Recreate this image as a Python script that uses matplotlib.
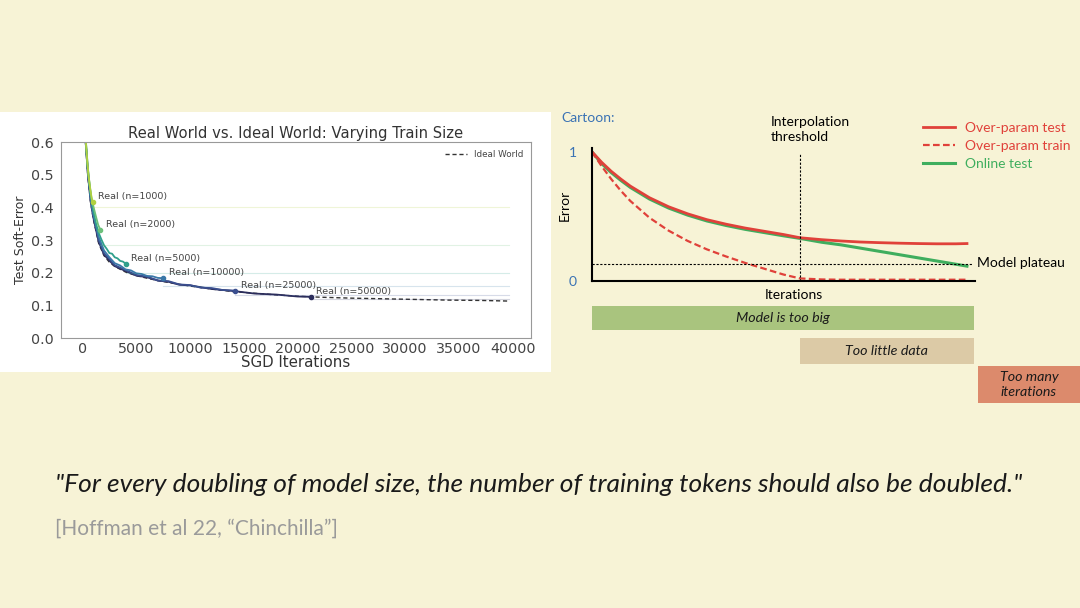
import matplotlib.pyplot as plt
from matplotlib.patches import Rectangle

BG = '#f7f3d6'
RED = '#e0413a'
GREEN = '#3fae5e'
BLUE = '#3a72b4'

# --- left chart: real world vs ideal world ---
ideal_x = [250, 500, 750, 1000, 1500, 2000, 2500, 3000, 4000, 5000, 6000, 7000, 8000,
           10000, 12000, 14000, 16000, 18000, 20000, 22000, 25000, 28000, 31000, 34000, 37000, 39700]
ideal_y = [0.615, 0.495, 0.415, 0.365, 0.29, 0.252, 0.232, 0.219, 0.202, 0.191, 0.183, 0.176, 0.170,
           0.159, 0.150, 0.142, 0.137, 0.132, 0.128, 0.125, 0.122, 0.120, 0.118, 0.116, 0.115, 0.113]

n1000_x = [250, 400, 550, 700, 850, 930]
n1000_y = [0.63, 0.56, 0.50, 0.462, 0.428, 0.416]
n2000_x = [250, 450, 650, 850, 1050, 1250, 1450, 1670]
n2000_y = [0.63, 0.53, 0.47, 0.425, 0.398, 0.372, 0.347, 0.33]
n5000_x = [250, 500, 750, 1000, 1250, 1500, 1750, 2000, 2250, 2500, 2750, 3000, 3250, 3500, 3750, 4000]
n5000_y = [0.63, 0.52, 0.44, 0.392, 0.35, 0.322, 0.302, 0.284, 0.273, 0.26, 0.258, 0.247, 0.244, 0.236, 0.234, 0.228]
n10000_x = [250, 500, 750, 1000, 1500, 2000, 2500, 3000, 3500, 4000, 4500, 5000, 5500, 6000, 6500, 7000, 7500]
n10000_y = [0.62, 0.51, 0.43, 0.38, 0.31, 0.268, 0.247, 0.229, 0.222, 0.21, 0.207, 0.198, 0.196, 0.19, 0.189, 0.184, 0.183]
n25000_x = [250, 500, 750, 1000, 1500, 2000, 2500, 3000, 4000, 5000, 6000, 7000, 8000, 9000,
            10000, 11000, 12000, 13000, 14200]
n25000_y = [0.62, 0.505, 0.425, 0.375, 0.30, 0.26, 0.242, 0.223, 0.208, 0.193, 0.188, 0.176, 0.174, 0.164,
            0.162, 0.154, 0.153, 0.147, 0.145]
n50000_x = [250, 500, 750, 1000, 1500, 2000, 2500, 3000, 4000, 5000, 6000, 7000, 8000, 9000,
            10000, 12000, 14000, 16000, 18000, 20000, 21200]
n50000_y = [0.62, 0.50, 0.42, 0.37, 0.295, 0.255, 0.237, 0.22, 0.205, 0.191, 0.186, 0.176, 0.172, 0.163,
            0.161, 0.150, 0.144, 0.136, 0.133, 0.127, 0.126]

real_labels = ['Real (n=1000)', 'Real (n=2000)', 'Real (n=5000)',
               'Real (n=10000)', 'Real (n=25000)', 'Real (n=50000)']
real_x = [n1000_x, n2000_x, n5000_x, n10000_x, n25000_x, n50000_x]
real_y = [n1000_y, n2000_y, n5000_y, n10000_y, n25000_y, n50000_y]
real_plateau = [0.40, 0.285, 0.20, 0.16, 0.133, 0.12]
real_colors = ['#b0d040', '#6cc07a', '#2fa08c', '#3a78a8', '#3b4f8f', '#2b2d5c']

x_ticks = [0, 5000, 10000, 15000, 20000, 25000, 30000, 35000, 40000]
y_ticks = [0.0, 0.1, 0.2, 0.3, 0.4, 0.5, 0.6]

# --- right chart: cartoon ---
cart_x = [0, 0.025, 0.05, 0.075, 0.1, 0.15, 0.2, 0.25, 0.3, 0.35, 0.4, 0.45, 0.5, 0.543,
          0.6, 0.65, 0.7, 0.75, 0.8, 0.85, 0.9, 0.95, 0.979]
overparam_test = [1.0, 0.92, 0.85, 0.79, 0.735, 0.645, 0.575, 0.52, 0.475, 0.44, 0.41, 0.385, 0.36, 0.335,
                  0.32, 0.31, 0.302, 0.297, 0.293, 0.29, 0.288, 0.288, 0.29]
overparam_train = [1.0, 0.89, 0.79, 0.70, 0.62, 0.49, 0.39, 0.31, 0.245, 0.19, 0.14, 0.095, 0.05, 0.02,
                   0.012, 0.01, 0.01, 0.01, 0.01, 0.01, 0.01, 0.01, 0.01]
online_test = [1.0, 0.91, 0.84, 0.78, 0.725, 0.635, 0.565, 0.51, 0.465, 0.43, 0.40, 0.375, 0.35, 0.33,
               0.30, 0.28, 0.255, 0.23, 0.205, 0.18, 0.155, 0.13, 0.115]
plateau_level = 0.13
threshold_x = 0.543

bar_labels = ['Model is too big', 'Too little data', 'Too many\niterations']
bar_start = [0.0, 0.543, 1.008]
bar_end = [0.997, 0.997, 1.274]
bar_colors = ['#a9c47e', '#dccaa6', '#dc8a6c']

fig = plt.figure(figsize=(10.8, 6.08), dpi=100, facecolor=BG)
fig.patches.append(Rectangle((0, 1 - 372 / 608), 551 / 1080, 260 / 608, transform=fig.transFigure,
                             facecolor='white', edgecolor='none', zorder=-1))

# left plot
ax1 = fig.add_axes([61 / 1080, 1 - 338 / 608, 470 / 1080, 196 / 608])
ax1.set_facecolor('white')
ideal_line, = ax1.plot(ideal_x, ideal_y, color='#333333', lw=1, dashes=(3, 2), label='Ideal World', zorder=1)
for i in reversed(range(len(real_x))):
    xs, ys, c = real_x[i], real_y[i], real_colors[i]
    ax1.plot([xs[-1], 39700], [real_plateau[i], real_plateau[i]], color=c, alpha=0.2, lw=0.8)
    ax1.plot(xs, ys, color=c, lw=1.3, zorder=2)
    ax1.plot(xs[-1], ys[-1], 'o', color=c, ms=3, zorder=3)
    ax1.annotate(real_labels[i], (xs[-1], ys[-1]), xytext=(4, 2), textcoords='offset points',
                 fontsize=6.8, color='#444444')
ax1.set_xlim(-2000, 41700)
ax1.set_ylim(0, 0.6)
ax1.set_xticks(x_ticks)
ax1.set_yticks(y_ticks)
ax1.set_yticklabels(['%.1f' % v for v in y_ticks])
ax1.tick_params(length=0, labelsize=10.3, labelcolor='#444444', pad=5)
ax1.tick_params(axis='x', pad=3)
for s in ax1.spines.values():
    s.set_color('#999999')
ax1.set_title('Real World vs. Ideal World: Varying Train Size', fontsize=10.6, color='#333333', pad=3)
ax1.set_xlabel('SGD Iterations', fontsize=10.8, color='#333333', labelpad=-1)
ax1.set_ylabel('Test Soft-Error', fontsize=9, color='#333333', labelpad=3)
ax1.legend(handles=[ideal_line], loc='upper right', frameon=False, fontsize=6.3, handlelength=2.5,
           labelcolor='#444444')

# right cartoon
font = 'Lato'
ax2 = fig.add_axes([592 / 1080, 1 - 281 / 608, 383 / 1080, 133 / 608])
ax2.set_facecolor('none')
ax2.set_xlim(0, 1)
ax2.set_ylim(0, 1.03)
ax2.spines[['top', 'right']].set_visible(False)
for s in ['left', 'bottom']:
    ax2.spines[s].set_linewidth(1.5)
    ax2.spines[s].set_color('black')
ax2.set_xticks([])
ax2.set_yticks([0, 1])
ax2.set_yticklabels(['0', '1'], fontfamily=font)
ax2.tick_params(length=0, labelsize=10, labelcolor=BLUE, pad=11)

l_online, = ax2.plot(cart_x, online_test, color=GREEN, lw=2.2, label='Online test')
l_test, = ax2.plot(cart_x, overparam_test, color=RED, lw=2, label='Over-param test')
l_train, = ax2.plot(cart_x, overparam_train, color=RED, lw=1.6, ls=(0, (3, 1.5)), label='Over-param train')
ax2.plot([0, 0.992], [plateau_level, plateau_level], color='black', lw=0.8, ls=(0, (2, 1.5)))
ax2.plot([threshold_x, threshold_x], [0, 0.98], color='black', lw=0.8, ls=(0, (2, 1.5)))

ax2.text(1.005, plateau_level + 0.01, 'Model plateau', fontsize=10, fontfamily=font, va='center', ha='left')
ax2.text((771 - 592) / 383, 1.28, 'Interpolation\nthreshold', fontsize=10, fontfamily=font,
         va='top', ha='left', linespacing=1.35)
ax2.text(-0.07, 0.57, 'Error', rotation=90, fontsize=10, fontfamily=font, ha='center', va='center',
         transform=ax2.transAxes)
ax2.text(0.527, -0.105, 'Iterations', fontsize=10, fontfamily=font, ha='center', va='center',
         transform=ax2.transAxes)
ax2.legend(handles=[l_test, l_train, l_online], loc='upper left', bbox_to_anchor=(0.864, 1.195),
           frameon=False, borderpad=0, borderaxespad=0, handlelength=2.3, handletextpad=0.7,
           labelspacing=0.42, labelcolor='linecolor', prop={'family': font, 'size': 10})

bar_y = [-0.287, -0.543, -0.802]
bar_h = [0.186, 0.2, 0.287]
for i in range(3):
    ax2.barh(bar_y[i], bar_end[i] - bar_start[i], left=bar_start[i], height=bar_h[i],
             color=bar_colors[i], clip_on=False)
    ax2.text((bar_start[i] + bar_end[i]) / 2, bar_y[i], bar_labels[i], fontsize=10.3, fontfamily=font,
             style='italic', ha='center', va='center', color='#1a1a1a', linespacing=1.3, clip_on=False)

fig.text(561 / 1080, 1 - 118 / 608, 'Cartoon:', fontsize=10, fontfamily=font, color=BLUE, va='center')

# quote
fig.text(55 / 1080, 1 - 485 / 608,
         '"For every doubling of model size, the number of training tokens should also be doubled."',
         fontsize=19, fontfamily=font, style='italic', color='#1a1a1a', va='center')
fig.text(55 / 1080, 1 - 529 / 608, '[Hoffman et al 22, \u201cChinchilla\u201d]', fontsize=15,
         fontfamily=font, color='#9a9a9a', va='center')

fig.savefig('out.png', dpi=100, facecolor=BG)
